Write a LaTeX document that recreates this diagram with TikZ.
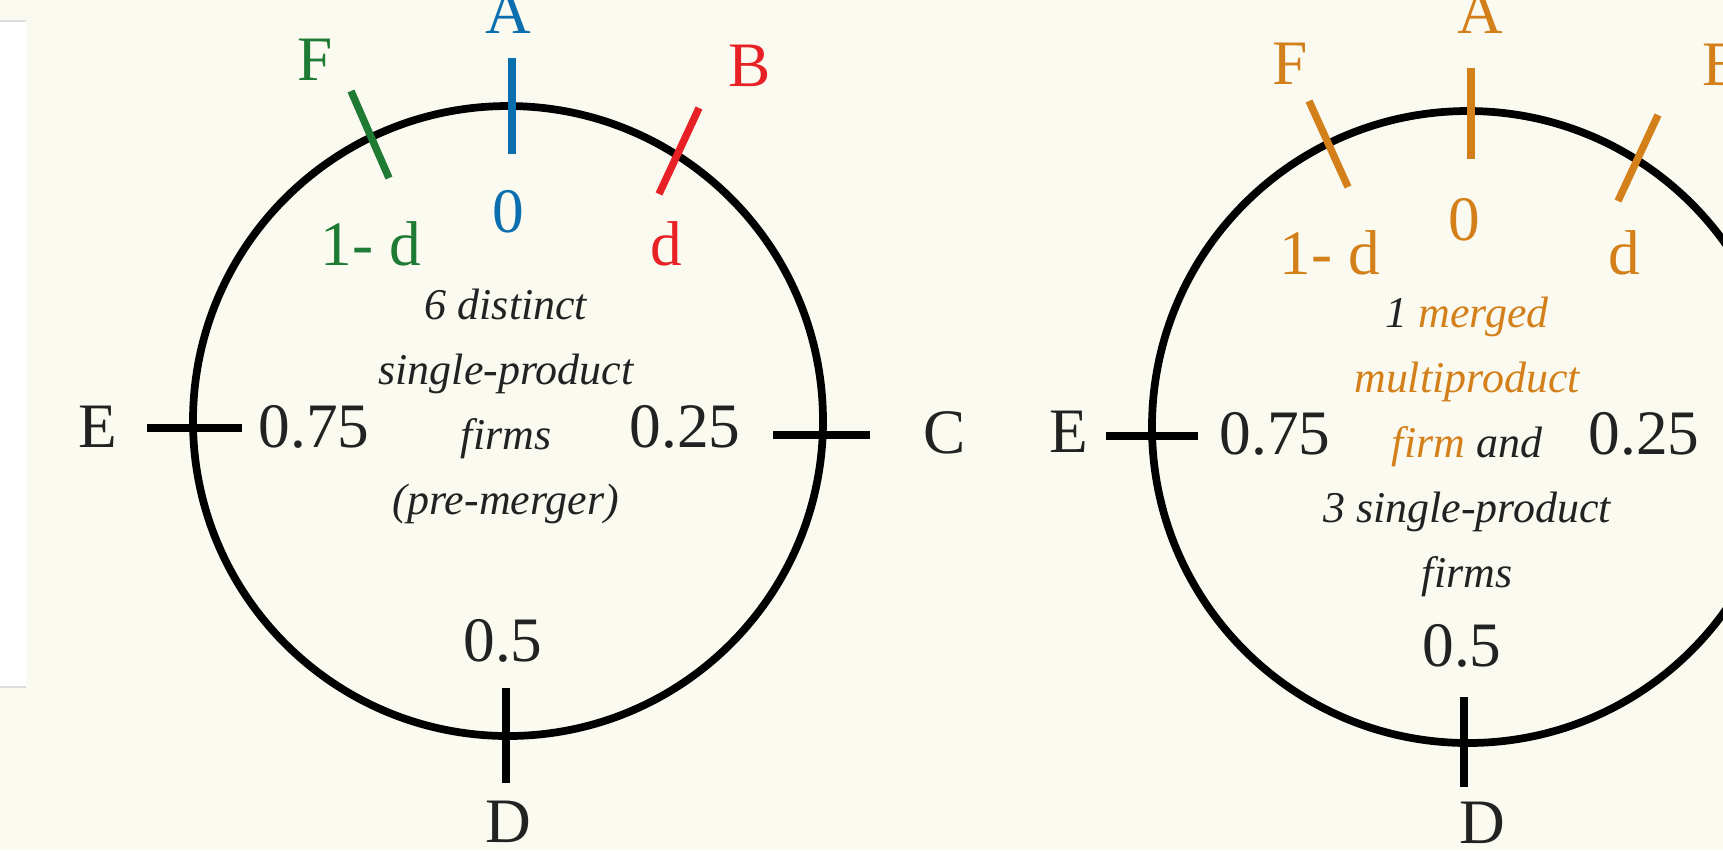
\documentclass[tikz,border=0pt]{standalone}
\usepackage{fontspec}
\setmainfont{Liberation Serif}
\usetikzlibrary{positioning}
\definecolor{paper}{HTML}{FAFAF0}
\definecolor{ink}{HTML}{222222}
\definecolor{rule}{HTML}{DCDCDC}
\definecolor{cblue}{HTML}{0A6EAF}
\definecolor{cgreen}{HTML}{1F7A33}
\definecolor{cred}{HTML}{E82127}
\definecolor{corange}{HTML}{D4801A}

\begin{document}
\begin{tikzpicture}[x=0.01cm,y=-0.01cm,
  ring/.style={draw=black,line width=2.2pt},
  tick/.style={line width=2.1pt},
  lbl/.style={font=\fontsize{18}{20}\selectfont,text=ink,inner sep=0pt},
  note/.style={font=\fontsize{12.5}{18.5}\selectfont\itshape,align=center,text=ink,inner sep=0pt}]
\useasboundingbox (0,0) rectangle (1723,850);
\clip (0,0) rectangle (1723,850);
\fill[paper] (0,0) rectangle (1723,850);
% side panel
\fill[white] (0,21) rectangle (26,687);
\draw[rule,line width=0.6pt] (0,21) -- (26,21) (0,687) -- (26,687);

% left circle: before the merger
\coordinate (L) at (508,421);
\draw[ring] (L) circle[radius=315];
\draw[tick,cblue] (512,58) -- (512,154);
\draw[tick,cgreen] (351,91) -- (389,178);
\draw[tick,cred] (699,108) -- (659,194);
\draw[tick] (147,428) -- (242,428);
\draw[tick] (773,435) -- (870,435);
\draw[tick] (506,688) -- (506,783);
\node[lbl,text=cblue] (la) at (508,13) {A};
\node[lbl,text=cblue] (l0) at (508,212) {0};
\node[lbl,text=cgreen] (lf) at (315,60) {F};
\node[lbl,text=cgreen] (lfd) at (371,244) {1- d};
\node[lbl,text=cred] (lb) at (750,66) {B};
\node[lbl,text=cred] (lbd) at (666,244) {d};
\node[lbl] (le) at (98,427) {E};
\node[lbl] (le75) at (314,427) {0.75};
\node[lbl] (lc25) at (685,427) {0.25};
\node[lbl] (lc) at (945,433) {C};
\node[lbl] (ld5) at (503,641) {0.5};
\node[lbl] (ld) at (508,822) {D};
\node[note] (lnote) at (506,406) {6 distinct\\single-product\\firms\\(pre-merger)};

% right circle: after the merger
\coordinate (R) at (1468,427);
\draw[ring] (R) circle[radius=316];
\draw[tick,corange] (1471,68) -- (1471,159);
\draw[tick,corange] (1309,101) -- (1348,187);
\draw[tick,corange] (1658,115) -- (1618,201);
\draw[tick] (1106,436) -- (1198,436);
\draw[tick] (1464,697) -- (1464,787);
\node[lbl,text=corange] (ra) at (1480,13) {A};
\node[lbl,text=corange] (r0) at (1464,220) {0};
\node[lbl,text=corange] (rf) at (1290,64) {F};
\node[lbl,text=corange] (rfd) at (1330,253) {1- d};
\node[lbl,text=corange] (rb) at (1724,65) {B};
\node[lbl,text=corange] (rbd) at (1624,253) {d};
\node[lbl] (re) at (1069,432) {E};
\node[lbl] (re75) at (1275,434) {0.75};
\node[lbl] (rc25) at (1644,434) {0.25};
\node[lbl] (rd5) at (1462,646) {0.5};
\node[lbl] (rd) at (1482,823) {D};
\node[note] (rnote) at (1467,447) {1 \textcolor{corange}{merged}\\\textcolor{corange}{multiproduct}\\\textcolor{corange}{firm} and\\3 single-product\\firms};
\end{tikzpicture}
\end{document}
